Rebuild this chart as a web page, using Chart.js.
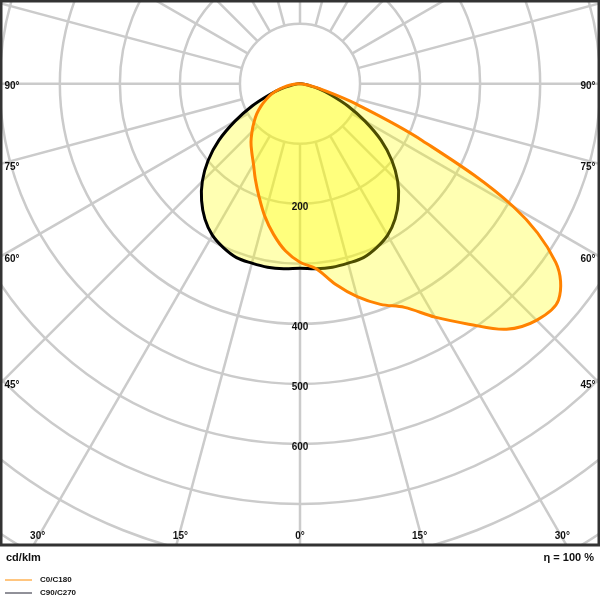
<!DOCTYPE html>
<html>
<head>
<meta charset="utf-8">
<script src="https://cdn.jsdelivr.net/npm/chart.js@4.4.1/dist/chart.umd.min.js"></script>
<style>
  body { margin: 0; background: #fff; }
  #wrap { width: 600px; height: 600px; }
</style>
</head>
<body>
<div id="wrap"><canvas id="ldc"></canvas></div>
<script>
// angles in degrees from nadir (0 = straight down)
const angles = [0, 5, 10, 15, 20, 25, 30, 35, 40, 45, 50, 55, 60, 65, 70, 75, 80, 85, 90];
// C0 side (right), C180 side (left), cd/klm
const c0 = [298, 310, 340, 368, 392, 412, 450, 490, 535, 558, 562, 520, 410, 225, 100, 38, 15, 5, 0];
const c180 = [298, 280, 255, 228, 200, 176, 155, 140, 127, 113, 100, 88, 75, 62, 50, 36, 22, 10, 0];
// C90 / C270 (symmetric)
const c90 = [308, 310, 311, 310, 309, 302, 292, 276, 255, 230, 200, 165, 125, 88, 55, 32, 12, 4, 0];

const ringValues = [100, 200, 300, 400, 500, 600, 700, 800, 900, 1000];
const ringLabels = [200, 400, 500, 600];
const sideLabels = [90, 75, 60, 45];
const bottomLabels = [30, 15, 0];

// build a closed curve: right side from 90 down to 0, then left side from 0 up to 90
function closedCurve(right, left) {
    const pts = [];
    for (let i = angles.length - 1; i >= 0; i--) {
        const a = angles[i] * Math.PI / 180;
        pts.push({ x: right[i] * Math.sin(a), y: -right[i] * Math.cos(a) });
    }
    for (let i = 1; i < angles.length; i++) {
        const a = angles[i] * Math.PI / 180;
        pts.push({ x: -left[i] * Math.sin(a), y: -left[i] * Math.cos(a) });
    }
    return pts;
}

const gridPlugin = {
    id: 'polarGrid',
    beforeDatasetsDraw(chart) {
        const ctx = chart.ctx;
        const area = chart.chartArea;
        const xs = chart.scales.x, ys = chart.scales.y;
        const cx = xs.getPixelForValue(0), cy = ys.getPixelForValue(0);
        const k = xs.getPixelForValue(100) - cx;
        ctx.save();
        ctx.beginPath();
        ctx.rect(area.left, area.top, area.right - area.left, area.bottom - area.top);
        ctx.clip();
        ctx.strokeStyle = '#cbcbcb';
        ctx.lineWidth = 2.5;
        ringValues.forEach(v => {
            ctx.beginPath();
            ctx.arc(cx, cy, v / 100 * k, 0, Math.PI * 2);
            ctx.stroke();
        });
        for (let d = 0; d < 360; d += 15) {
            const a = d * Math.PI / 180;
            ctx.beginPath();
            ctx.moveTo(cx + Math.sin(a) * k, cy + Math.cos(a) * k);
            ctx.lineTo(cx + Math.sin(a) * 12 * k, cy + Math.cos(a) * 12 * k);
            ctx.stroke();
        }
        ctx.restore();
    },
    afterDraw(chart) {
        const ctx = chart.ctx;
        const area = chart.chartArea;
        const xs = chart.scales.x, ys = chart.scales.y;
        const cx = xs.getPixelForValue(0), cy = ys.getPixelForValue(0);
        const k = xs.getPixelForValue(100) - cx;
        ctx.save();
        ctx.fillStyle = '#111';
        ctx.font = 'bold 10px "Liberation Sans", Arial';
        ctx.textAlign = 'center';
        ctx.textBaseline = 'middle';
        ringLabels.forEach(v => {
            ctx.fillText(String(v), cx, cy + v / 100 * k + 3);
        });
        sideLabels.forEach(d => {
            const a = d * Math.PI / 180;
            const y = cy + (area.right - cx) / Math.tan(a) + 3;
            ctx.fillText(d + '°', area.left + 11, y);
            ctx.fillText(d + '°', area.right - 11, y);
        });
        bottomLabels.forEach(d => {
            const a = d * Math.PI / 180;
            const dx = (area.bottom - cy) * Math.tan(a) - 4;
            ctx.fillText(d + '°', cx - Math.max(dx, 0), area.bottom - 9);
            if (d > 0) ctx.fillText(d + '°', cx + dx, area.bottom - 9);
        });
        // frame
        ctx.strokeStyle = '#333';
        ctx.lineWidth = 3;
        ctx.strokeRect(area.left, area.top, area.right - area.left, area.bottom - area.top);
        // footer
        ctx.font = 'bold 11px "Liberation Sans", Arial';
        ctx.textAlign = 'left';
        ctx.fillText('cd/klm', 6, 558);
        ctx.textAlign = 'right';
        ctx.fillText('η = 100 %', 594, 558);
        ctx.font = 'bold 8px "Liberation Sans", Arial';
        ctx.textAlign = 'left';
        ctx.lineWidth = 1;
        ctx.strokeStyle = '#ff8c00';
        ctx.beginPath(); ctx.moveTo(5, 580); ctx.lineTo(32, 580); ctx.stroke();
        ctx.fillText('C0/C180', 40, 580);
        ctx.strokeStyle = '#223';
        ctx.beginPath(); ctx.moveTo(5, 593); ctx.lineTo(32, 593); ctx.stroke();
        ctx.fillText('C90/C270', 40, 593);
        ctx.restore();
    }
};

new Chart(document.getElementById('ldc'), {
    type: 'scatter',
    data: {
        datasets: [
            {
                label: 'C0/C180',
                data: closedCurve(c0, c180),
                showLine: true,
                borderColor: '#ff8200',
                borderWidth: 3,
                backgroundColor: 'rgba(255,255,0,0.3)',
                fill: 'shape',
                tension: 0.35,
                pointRadius: 0
            },
            {
                label: 'C90/C270',
                data: closedCurve(c90, c90),
                showLine: true,
                borderColor: '#000',
                borderWidth: 3,
                backgroundColor: 'rgba(255,255,0,0.3)',
                fill: 'shape',
                tension: 0.35,
                pointRadius: 0
            }
        ]
    },
    options: {
        responsive: true,
        maintainAspectRatio: false,
        animation: false,
        layout: { padding: { left: 1, right: 1, top: 1, bottom: 55 } },
        plugins: { legend: { display: false }, tooltip: { enabled: false } },
        scales: {
            x: { type: 'linear', min: -498, max: 498, display: false },
            y: { type: 'linear', min: -770, max: 138, display: false }
        }
    },
    plugins: [gridPlugin]
});
</script>
</body>
</html>
